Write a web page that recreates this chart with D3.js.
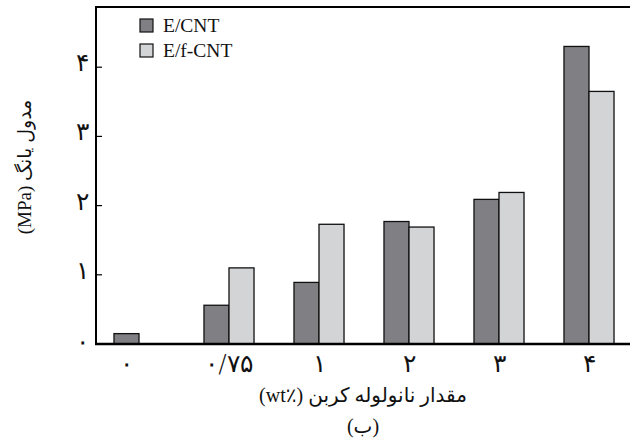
<!DOCTYPE html>
<html>
<head>
<meta charset="utf-8">
<script src="https://cdn.jsdelivr.net/npm/d3@7"></script>
<style>
  body { margin: 0; background: #fff; }
  svg { display: block; }
  text { font-family: "Liberation Serif", "DejaVu Serif", "DejaVu Sans", serif; fill: #111; }
  text.digits { font-family: "DejaVu Sans ExtraLight", "DejaVu Sans", sans-serif; font-weight: 200; }
</style>
</head>
<body>
<div id="chart"></div>
<script>
// carbon nanotube content (wt%) — labels in Persian digits
const categories = ['0', '0.75', '1', '2', '3', '4'];
const tickLabels = ['۰', '۰/۷۵', '۱', '۲', '۳', '۴'];
// Young's modulus (MPa)
const cntValues = [0.15, 0.56, 0.89, 1.77, 2.09, 4.30];
const fcntValues = [null, 1.10, 1.73, 1.69, 2.19, 3.65];
const seriesNames = ['E/CNT', 'E/f-CNT'];
const yTicks = [0, 1, 2, 3, 4];
const yTickLabels = ['۰', '۱', '۲', '۳', '۴'];

const width = 630, height = 442;
const margin = {top: 7, right: -4, bottom: 98, left: 96};
const colors = ['#808084', '#d3d4d6'];

const svg = d3.select('#chart').append('svg')
    .attr('width', width)
    .attr('height', height);

const x = d3.scaleBand()
    .domain(categories)
    .range([margin.left - 2, width - margin.right])
    .paddingInner(0.444)
    .paddingOuter(0.222);

const sub = d3.scaleBand()
    .domain(seriesNames)
    .range([0, x.bandwidth()]);

const y = d3.scaleLinear()
    .domain([0, 4.87])
    .range([height - margin.bottom, margin.top]);

const rows = categories.map((c, i) => ({
    cat: c,
    label: tickLabels[i],
    vals: [cntValues[i], fcntValues[i]]
}));

// bars
rows.forEach(r => {
    r.vals.forEach((v, j) => {
        if (v == null) return;
        svg.append('rect')
            .attr('x', x(r.cat) + sub(seriesNames[j]))
            .attr('y', y(v))
            .attr('width', sub.bandwidth())
            .attr('height', y(0) - y(v))
            .attr('fill', colors[j])
            .attr('stroke', '#111')
            .attr('stroke-width', 1.3);
    });
});

// frame: left axis, bottom axis, top border
const x0 = margin.left, x1 = width, yb = y(0), yt = margin.top;
svg.append('line').attr('x1', x0).attr('x2', x0).attr('y1', yt).attr('y2', yb + 1)
    .attr('stroke', '#000').attr('stroke-width', 2);
svg.append('line').attr('x1', x0 - 1).attr('x2', x1).attr('y1', yb).attr('y2', yb)
    .attr('stroke', '#000').attr('stroke-width', 2.5);
svg.append('line').attr('x1', x0 - 1).attr('x2', x1).attr('y1', yt).attr('y2', yt)
    .attr('stroke', '#000').attr('stroke-width', 2);

// y ticks (inside) and labels
yTicks.forEach((t, i) => {
    if (t > 0) {
        svg.append('line')
            .attr('x1', x0).attr('x2', x0 + 6)
            .attr('y1', y(t)).attr('y2', y(t))
            .attr('stroke', '#000').attr('stroke-width', 1.2);
    }
    svg.append('text')
        .attr('class', 'digits')
        .attr('x', 82)
        .attr('y', y(t) + (t === 0 ? 6 : 4))
        .attr('text-anchor', 'middle')
        .attr('font-size', 25)
        .text(yTickLabels[i]);
});

// x tick labels, centred under the bars present in each group
rows.forEach(r => {
    const present = r.vals.map((v, j) => v == null ? null : j).filter(j => j != null);
    const left = x(r.cat) + sub(seriesNames[present[0]]);
    const right = x(r.cat) + sub(seriesNames[present[present.length - 1]]) + sub.bandwidth();
    svg.append('text')
        .attr('class', 'digits')
        .attr('x', (left + right) / 2)
        .attr('y', 372)
        .attr('text-anchor', 'middle')
        .attr('font-size', 25)
        .text(r.label);
});

// axis titles
const cx = (x0 + x1) / 2;
svg.append('text')
    .attr('x', cx)
    .attr('y', 402)
    .attr('text-anchor', 'middle')
    .attr('direction', 'rtl')
    .attr('font-size', 20)
    .text('مقدار نانولوله کربن (\u2066wt٪\u2069)');

svg.append('text')
    .attr('x', cx)
    .attr('y', 433)
    .attr('text-anchor', 'middle')
    .attr('direction', 'rtl')
    .attr('font-size', 20)
    .text('(ب)');

svg.append('text')
    .attr('transform', 'translate(31,167) rotate(-90)')
    .attr('text-anchor', 'middle')
    .attr('direction', 'rtl')
    .attr('font-size', 19)
    .text('مدول یانگ (MPa)');

// legend
const legend = svg.append('g').attr('transform', 'translate(140,19)');
seriesNames.forEach((name, j) => {
    const g = legend.append('g').attr('transform', `translate(0,${j * 25})`);
    g.append('rect')
        .attr('width', 13).attr('height', 13)
        .attr('fill', colors[j])
        .attr('stroke', '#111').attr('stroke-width', 1.2);
    g.append('text')
        .attr('x', 23).attr('y', 13)
        .attr('font-size', 19.5)
        .text(name);
});
</script>
</body>
</html>
